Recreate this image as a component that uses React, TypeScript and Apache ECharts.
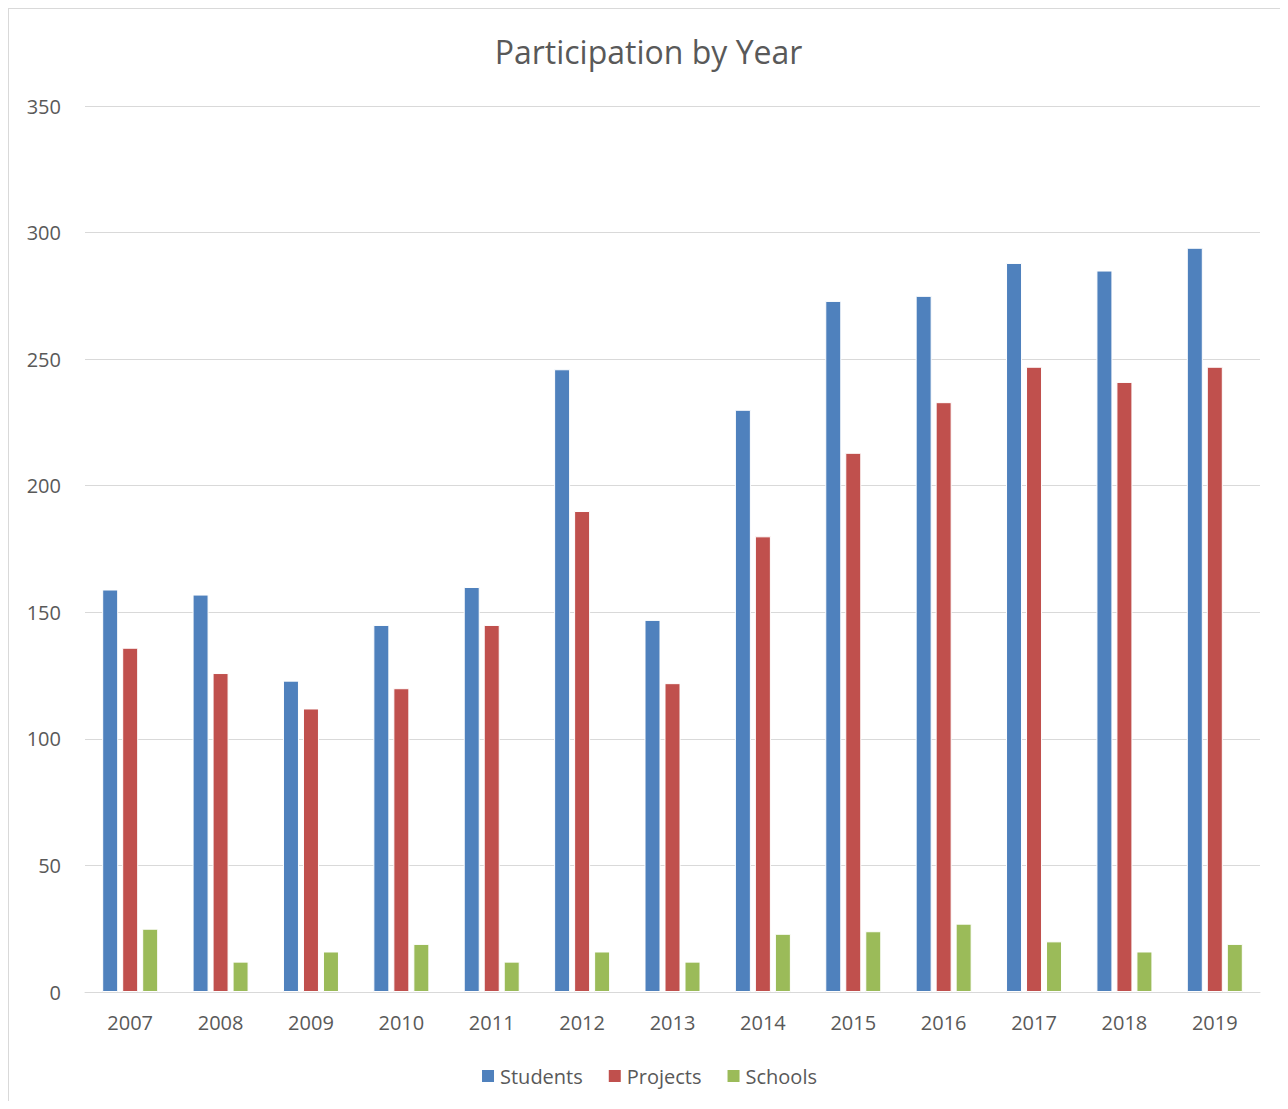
import React, { useEffect, useRef } from "react";
import * as echarts from "echarts";

const years = ["2007", "2008", "2009", "2010", "2011", "2012", "2013", "2014", "2015", "2016", "2017", "2018", "2019"];
const students = [159, 157, 123, 145, 160, 246, 147, 230, 273, 275, 288, 285, 294];
const projects = [136, 126, 112, 120, 145, 190, 122, 180, 213, 233, 247, 241, 247];
const schools = [25, 12, 16, 19, 12, 16, 12, 23, 24, 27, 20, 16, 19];

const FONT = "'Open Sans', 'Liberation Sans', sans-serif";
const TXT = "#595959";

export default function App() {
  const ref = useRef<HTMLDivElement>(null);
  useEffect(() => {
    if (!ref.current) return;
    const chart = echarts.init(ref.current, null, { renderer: "svg" });
    const mk = (name: string, data: number[], color: string) => ({
      name,
      type: "bar",
      data,
      barWidth: 16,
      barGap: "25%",
      itemStyle: { color, borderColor: "#fff", borderWidth: 1 },
    });
    chart.setOption({
      animation: false,
      textStyle: { fontFamily: FONT },
      title: {
        text: "Participation by Year",
        left: "center",
        top: 21,
        textStyle: { fontFamily: FONT, fontSize: 32, fontWeight: "normal", color: TXT },
      },
      legend: {
        bottom: 10,
        left: "center",
        itemWidth: 14,
        itemHeight: 14,
        itemGap: 24,
        icon: "rect",
        textStyle: { fontFamily: FONT, fontSize: 20, color: TXT },
        data: ["Students", "Projects", "Schools"],
      },
      grid: { left: 76, right: 28, top: 97, bottom: 109 },
      xAxis: {
        type: "category",
        data: years,
        axisLine: { lineStyle: { color: "#d9d9d9", width: 1 } },
        axisTick: { show: false },
        axisLabel: { fontFamily: FONT, fontSize: 20, color: TXT, margin: 20 },
      },
      yAxis: {
        type: "value",
        min: 0,
        max: 350,
        interval: 50,
        axisLine: { show: false },
        axisTick: { show: false },
        splitLine: { lineStyle: { color: "#d9d9d9", width: 1 } },
        axisLabel: { fontFamily: FONT, fontSize: 20, color: TXT, margin: 24 },
      },
      series: [
        mk("Students", students, "#4F81BD"),
        mk("Projects", projects, "#C0504D"),
        mk("Schools", schools, "#9BBB59"),
      ],
    });
    return () => chart.dispose();
  }, []);
  return (
    <div style={{ width: 1280, height: 1093, borderLeft: "1px solid #d9d9d9", borderTop: "1px solid #d9d9d9", boxSizing: "border-box", overflow: "hidden" }}>
      <div ref={ref} style={{ width: 1279, height: 1092 }} />
    </div>
  );
}
